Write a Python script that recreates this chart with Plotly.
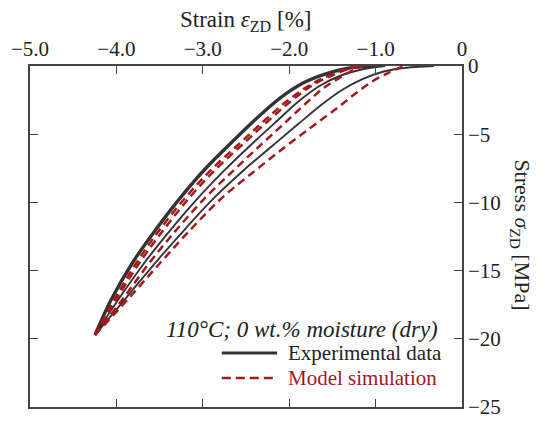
import plotly.graph_objects as go

# Experimental curves (strain %, stress MPa)
exp1_strain = [-4.248, -4.062, -3.808, -3.530, -3.252, -2.963, -2.662, -2.373, -2.106, -1.840, -1.586, -1.331, -1.065, -0.97]
exp1_stress = [-19.72, -17.16, -14.37, -11.88, -9.60, -7.48, -5.57, -3.81, -2.35, -1.25, -0.59, -0.18, -0.01, 0.0]
exp2_strain = [-4.248, -3.981, -3.669, -3.356, -3.044, -2.745, -2.445, -2.130, -1.900, -1.650, -1.389, -1.134, -0.891]
exp2_stress = [-19.72, -17.16, -14.37, -11.88, -9.60, -7.62, -5.79, -3.96, -2.64, -1.47, -0.66, -0.22, 0.0]
exp3_strain = [-4.248, -3.889, -3.542, -3.194, -2.859, -2.523, -2.211, -1.910, -1.644, -1.389, -1.146, -0.926, -0.718, -0.509, -0.324]
exp3_stress = [-19.72, -17.01, -14.37, -11.88, -9.60, -7.62, -5.94, -4.33, -2.93, -1.76, -0.95, -0.44, -0.18, -0.06, 0.0]

# Model simulation curves
mod1_strain = [-4.248, -4.028, -3.762, -3.484, -3.194, -2.894, -2.581, -2.292, -2.025, -1.759, -1.528, -1.331, -1.181]
mod1_stress = [-19.72, -17.16, -14.37, -11.88, -9.60, -7.55, -5.72, -4.03, -2.57, -1.39, -0.66, -0.18, 0.0]
mod2_strain = [-4.248, -4.005, -3.727, -3.438, -3.148, -2.847, -2.535, -2.245, -1.979, -1.725, -1.493, -1.296, -1.146]
mod2_stress = [-19.72, -17.16, -14.37, -11.88, -9.60, -7.55, -5.72, -4.03, -2.57, -1.39, -0.66, -0.18, 0.0]
mod3_strain = [-4.248, -3.935, -3.611, -3.287, -2.963, -2.639, -2.330, -2.040, -1.790, -1.586, -1.400, -1.250, -1.146]
mod3_stress = [-19.72, -17.16, -14.37, -11.88, -9.60, -7.62, -5.79, -4.11, -2.64, -1.54, -0.81, -0.26, 0.0]
mod4_strain = [-4.248, -3.854, -3.484, -3.125, -2.766, -2.384, -2.049, -1.740, -1.445, -1.225, -1.030, -0.845, -0.671]
mod4_stress = [-19.72, -17.01, -14.37, -11.88, -9.60, -7.62, -5.94, -4.47, -3.08, -1.98, -1.10, -0.48, 0.0]

x_ticks = [-5, -4, -3, -2, -1, 0]
x_ticklabels = ["\u22125.0", "\u22124.0", "\u22123.0", "\u22122.0", "\u22121.0", "0"]
y_ticks = [0, -5, -10, -15, -20, -25]
y_ticklabels = ["0", "\u22125", "\u221210", "\u221215", "\u221220", "\u221225"]

BLACK = "#333333"
RED = "#a31a1e"
TEXT = "#222222"
FONT = "Liberation Serif"

fig = go.Figure()

exp_curves = [(exp1_strain, exp1_stress, 3.4), (exp2_strain, exp2_stress, 1.9), (exp3_strain, exp3_stress, 1.9)]
for xs, ys, w in exp_curves:
    fig.add_trace(go.Scatter(x=xs, y=ys, mode="lines", showlegend=False, name="Experimental data",
                             line=dict(color=BLACK, width=w, shape="spline", smoothing=1.0)))

mod_curves = [(mod1_strain, mod1_stress), (mod2_strain, mod2_stress), (mod3_strain, mod3_stress), (mod4_strain, mod4_stress)]
for xs, ys in mod_curves:
    fig.add_trace(go.Scatter(x=xs, y=ys, mode="lines", showlegend=False, name="Model simulation",
                             line=dict(color=RED, width=2.5, dash="8px,5px", shape="spline", smoothing=1.0)))

axis_common = dict(ticks="inside", ticklen=8, tickwidth=1.2, tickcolor="#444444",
                   showline=True, linecolor="#444444", linewidth=1.5, mirror="ticks",
                   showgrid=False, zeroline=False, automargin=False,
                   tickfont=dict(family=FONT, size=21, color=TEXT))

# page body has an 8px margin, so the figure is 8px smaller and its margins 8px tighter
fig.update_layout(
    width=537, height=415,
    margin=dict(l=22, r=83, t=58, b=16),
    paper_bgcolor="white", plot_bgcolor="white",
    font=dict(family=FONT, size=21, color=TEXT),
    showlegend=False,
    xaxis=dict(range=[-5, 0], side="top", tickvals=x_ticks, ticktext=x_ticklabels, **axis_common),
    yaxis=dict(range=[-25, 0], side="right", tickvals=y_ticks, ticktext=y_ticklabels, **axis_common),
)

# axis titles
fig.add_annotation(text="Strain <i>\u03b5</i><sub>ZD</sub> [%]", xref="paper", yref="paper",
                   x=0.498, y=1.132, xanchor="center", yanchor="middle", showarrow=False,
                   font=dict(family=FONT, size=23, color=TEXT))
fig.add_annotation(text="Stress <i>\u03c3</i><sub>ZD</sub> [MPa]", xref="paper", yref="paper",
                   x=1.136, y=0.504, xanchor="center", yanchor="middle", textangle=90, showarrow=False,
                   font=dict(family=FONT, size=22, color=TEXT))

# condition label
fig.add_annotation(text="<i>110\u00b0C; 0 wt.% moisture (dry)</i>", xref="paper", yref="paper",
                   x=0.949, y=0.228, xanchor="right", yanchor="middle", showarrow=False,
                   font=dict(family=FONT, size=23, color=TEXT))

# legend keys
fig.add_shape(type="line", xref="paper", yref="paper", x0=0.444, x1=0.572, y0=0.158, y1=0.158,
              line=dict(color=BLACK, width=3))
fig.add_shape(type="line", xref="paper", yref="paper", x0=0.444, x1=0.572, y0=0.085, y1=0.085,
              line=dict(color=RED, width=2.5, dash="9px,5px"))
fig.add_annotation(text="Experimental data", xref="paper", yref="paper", x=0.593, y=0.158,
                   xanchor="left", yanchor="middle", showarrow=False,
                   font=dict(family=FONT, size=21, color=TEXT))
fig.add_annotation(text="Model simulation", xref="paper", yref="paper", x=0.593, y=0.085,
                   xanchor="left", yanchor="middle", showarrow=False,
                   font=dict(family=FONT, size=21, color=RED))

fig.write_html("out.html")
